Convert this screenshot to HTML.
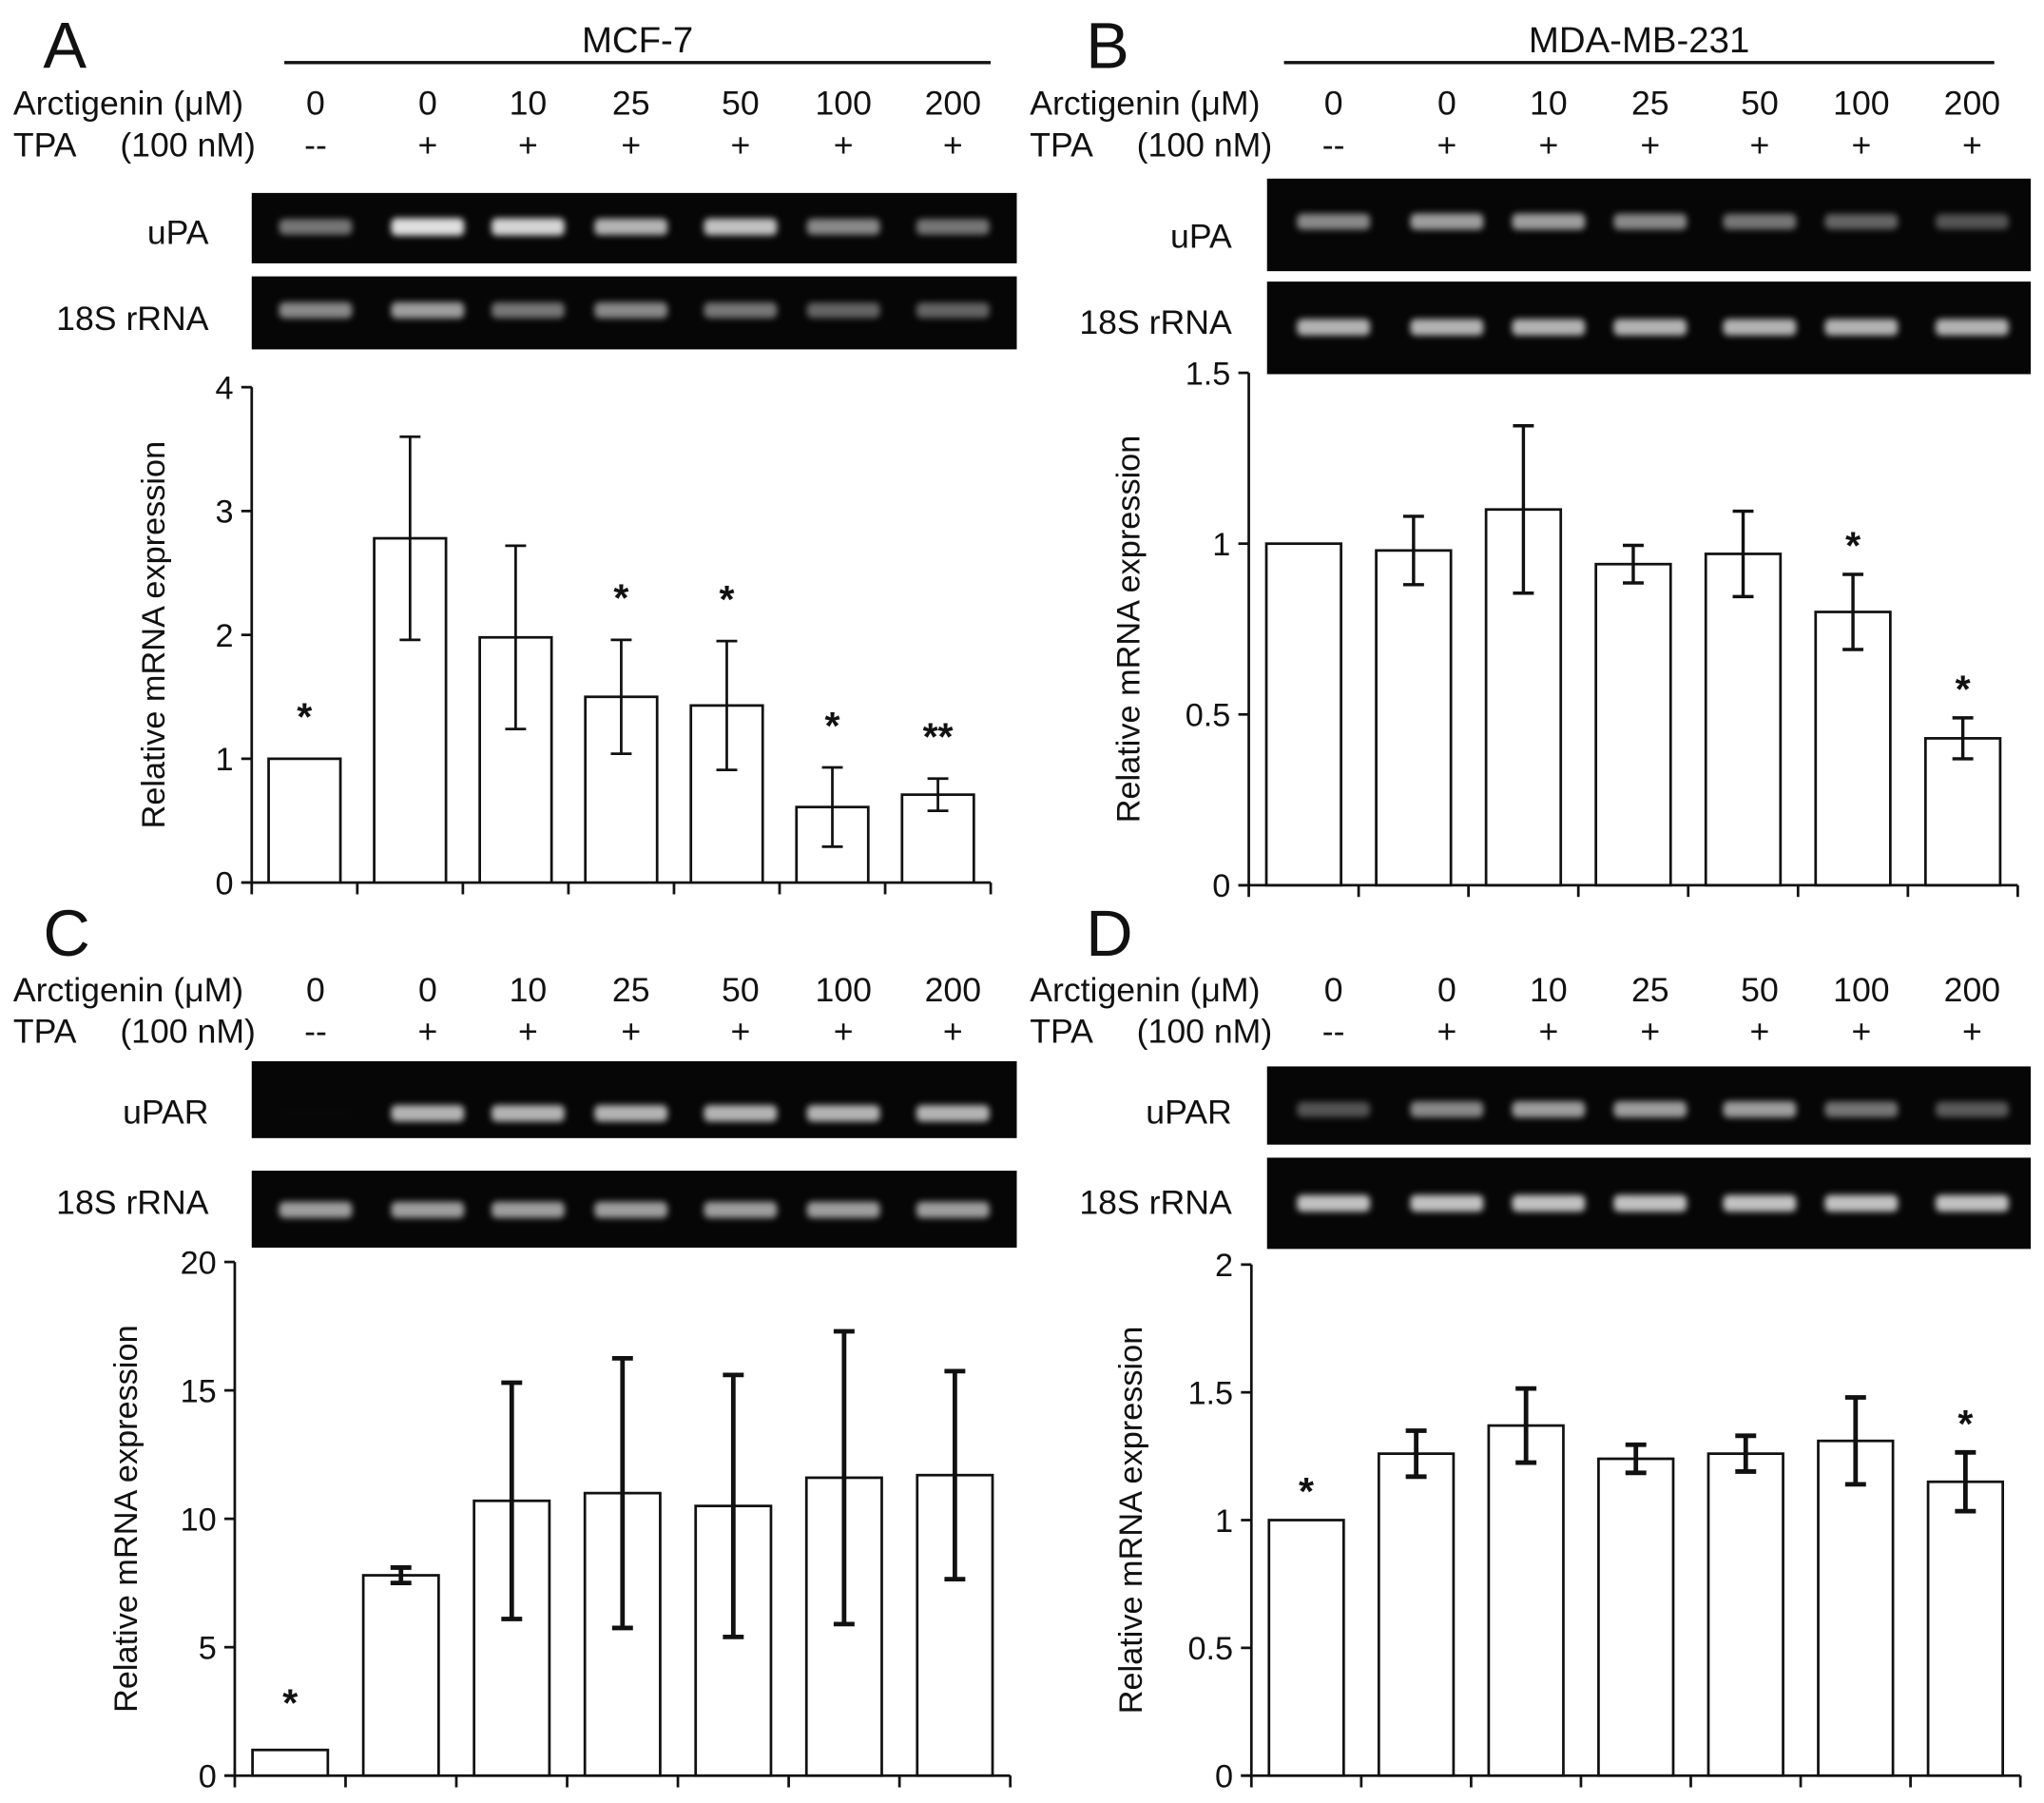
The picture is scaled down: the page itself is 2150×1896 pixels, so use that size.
<!DOCTYPE html>
<html><head><meta charset="utf-8"><style>
html,body{margin:0;padding:0;background:#fff}
svg{display:block}
text{font-family:"Liberation Sans",Arial,sans-serif;fill:#111}
</style></head><body>
<svg id="fig" xmlns="http://www.w3.org/2000/svg" width="2150" height="1896" viewBox="0 0 1568 1383">
<defs><filter id="blur" x="-20%" y="-100%" width="140%" height="300%"><feGaussianBlur stdDeviation="2.6"/></filter></defs>
</svg>
<script>
const doses=["0","0","10","25","50","100","200"];
const tpa=["--","+","+","+","+","+","+"];
const valsA=[1,2.78,1.98,1.5,1.43,0.61,0.71];
const errA=[0,0.82,0.74,0.46,0.52,0.32,0.13];
const starsA=["*","","","*","*","*","**"];
const ticksA=[0,1,2,3,4];
const valsB=[1,0.98,1.1,0.94,0.97,0.8,0.43];
const errB=[0,0.1,0.245,0.055,0.125,0.11,0.06];
const starsB=["","","","","","*","*"];
const ticksB=[0,0.5,1,1.5];
const valsC=[1,7.8,10.7,11.0,10.5,11.6,11.7];
const errC=[0,0.3,4.6,5.25,5.1,5.7,4.05];
const starsC=["*","","","","","",""];
const ticksC=[0,5,10,15,20];
const valsD=[1,1.26,1.37,1.24,1.26,1.31,1.15];
const errD=[0,0.09,0.145,0.055,0.07,0.17,0.115];
const starsD=["*","","","","","","*"];
const ticksD=[0,0.5,1,1.5,2];
const bandA1=[0.5,0.85,0.8,0.65,0.7,0.55,0.5];
const bandA2=[0.55,0.6,0.5,0.55,0.5,0.45,0.45];
const bandB1=[0.55,0.6,0.6,0.55,0.5,0.45,0.4];
const bandB2=[0.65,0.65,0.65,0.65,0.65,0.65,0.65];
const bandC1=[0.02,0.65,0.65,0.65,0.65,0.65,0.65];
const bandC2=[0.6,0.6,0.6,0.6,0.6,0.6,0.6];
const bandD1=[0.4,0.55,0.6,0.6,0.6,0.5,0.42];
const bandD2=[0.7,0.7,0.7,0.7,0.7,0.7,0.7];

const svg=document.getElementById('fig');
const NS="http://www.w3.org/2000/svg";
function mk(tag,at,parent){const e=document.createElementNS(NS,tag);for(const k in at)e.setAttribute(k,at[k]);(parent||svg).appendChild(e);return e;}
function txt(s,x,y,size,anchor,parent,extra){const t=mk('text',Object.assign({x:x,y:y,'font-size':size,'text-anchor':anchor||'start'},extra||{}),parent);t.textContent=s;return t;}

function panel(p){
  const g=mk('g',{});
  
  
  const L=txt(p.id,p.letterX,p.letterY,50,'start',g);
  
  
  if(p.cell){
    const c=txt(p.cell,(p.lineX1+p.lineX2)/2,40,28,'middle',g);
    
    
    const ln=mk('line',{x1:p.lineX1,x2:p.lineX2,y1:48,y2:48,stroke:'#111','stroke-width':2.5},g);
    
    
  }
  const a=txt('Arctigenin (μM)',p.labX,p.rowY,26,'start',g);
  
  
  const tp=txt('TPA',p.labX,p.rowY+32,26,'start',g);
  
  
  const tp2=txt('(100 nM)',p.labX+186,p.rowY+32,26,'end',g);
  
  
  doses.forEach((d,i)=>{
    const t=txt(d,p.laneX[i],p.rowY,26,'middle',g);
    
    
    const u=txt(tpa[i],p.laneX[i],p.rowY+32,26,'middle',g);
    
    
  });
  p.gels.forEach(gl=>{
    const r=mk('rect',{x:gl.x1,y:gl.y1,width:gl.x2-gl.x1,height:gl.y2-gl.y1,fill:'#060606'},g);
    
    
    const lt=txt(gl.name,gl.labRight,gl.labY,26,'end',g);
    
    
    gl.band.forEach((b,i)=>{
      const v=Math.round(60+190*b);
      const e=mk('rect',{x:p.laneX[i]-28,y:gl.by-5-b*2,width:56,height:10+b*4,rx:4,fill:'rgb('+v+','+v+','+v+')',filter:'url(#blur)',opacity:Math.min(1,b*1.5)},g);
      
      
    });
  });
  const c=p.chart;
  const n=c.vals.length;
  const step=(c.x2-c.x0)/n;
  const xs=i=>c.x0+step*i;
  const ys=v=>c.yZero-(v/c.ticks[c.ticks.length-1])*(c.yZero-c.yTop);
  const ax=mk('line',{x1:c.x0,x2:c.x0,y1:ys(c.ticks[c.ticks.length-1]),y2:c.yZero,stroke:'#111','stroke-width':2},g);
  
  
  const xa=mk('line',{x1:c.x0-8,x2:c.x2,y1:c.yZero,y2:c.yZero,stroke:'#111','stroke-width':2},g);
  
  
  c.ticks.forEach(t=>{
    const tk=mk('line',{x1:c.x0-8,x2:c.x0,y1:ys(t),y2:ys(t),stroke:'#111','stroke-width':2},g);
    
    
    const tl=txt(String(t),c.x0-14,ys(t)+9,25,'end',g);
    
    
  });
  for(let i=0;i<=n;i++){
    const tk=mk('line',{x1:xs(i),x2:xs(i),y1:c.yZero,y2:c.yZero+9,stroke:'#111','stroke-width':2},g);
    
    
  }
  const yt=txt('Relative mRNA expression',0,0,25,'middle',g,{transform:'translate('+c.titleX+','+((c.yZero+ys(c.ticks[c.ticks.length-1]))/2)+') rotate(-90)'});
  
  
  const bw=step*0.68;
  c.vals.forEach((v,i)=>{
    const cx=xs(i)+step/2;
    const b=mk('rect',{x:cx-bw/2,y:ys(v),width:bw,height:c.yZero-ys(v),fill:'#fff',stroke:'#111','stroke-width':2},g);
    
    
    const e=c.err[i];
    if(e>0){
      const eg=mk('g',{stroke:'#111','stroke-width':c.ew},g);
      
      
      mk('line',{x1:cx,x2:cx,y1:ys(v+e),y2:ys(v-e)},eg);
      mk('line',{x1:cx-8,x2:cx+8,y1:ys(v+e),y2:ys(v+e)},eg);
      mk('line',{x1:cx-8,x2:cx+8,y1:ys(v-e),y2:ys(v-e)},eg);
    }
    if(c.stars[i]){
      const s=txt(c.stars[i],cx,ys(v+e)-c.starOff,30,'middle',g,{'font-weight':'bold'});
      
      
    }
  });
}
const laneL=[242,328,405,484,568,647,731];
const laneR=[1023,1110,1188,1266,1350,1428,1513];
panel({id:'A',letterX:33,letterY:52,cell:'MCF-7',lineX1:218,lineX2:760,labX:10,rowY:88,laneX:laneL,
  gels:[{name:'uPA',x1:193,x2:780,y1:148,y2:202,by:174,labRight:160,labY:187,band:bandA1},{name:'18S rRNA',x1:193,x2:780,y1:212,y2:268,by:238,labRight:160,labY:253,band:bandA2}],
  chart:{x0:193,x2:760,yZero:677,yTop:297,vals:valsA,err:errA,stars:starsA,ticks:ticksA,titleX:126,ew:2,starOff:22}});
panel({id:'B',letterX:833,letterY:52,cell:'MDA-MB-231',lineX1:985,lineX2:1530,labX:790,rowY:88,laneX:laneR,
  gels:[{name:'uPA',x1:972,x2:1558,y1:137,y2:208,by:170,labRight:945,labY:190,band:bandB1},{name:'18S rRNA',x1:972,x2:1558,y1:216,y2:287,by:251,labRight:945,labY:256,band:bandB2}],
  chart:{x0:958,x2:1548,yZero:679,yTop:286,vals:valsB,err:errB,stars:starsB,ticks:ticksB,titleX:874,ew:2.5,starOff:12}});
panel({id:'C',letterX:33,letterY:733,labX:10,rowY:768,laneX:laneL,
  gels:[{name:'uPAR',x1:193,x2:780,y1:814,y2:873,by:854,labRight:160,labY:862,band:bandC1},{name:'18S rRNA',x1:193,x2:780,y1:898,y2:957,by:928,labRight:160,labY:931,band:bandC2}],
  chart:{x0:180,x2:775,yZero:1362,yTop:968,vals:valsC,err:errC,stars:starsC,ticks:ticksC,titleX:105,ew:3.5,starOff:26}});
panel({id:'D',letterX:833,letterY:733,labX:790,rowY:768,laneX:laneR,
  gels:[{name:'uPAR',x1:972,x2:1558,y1:818,y2:878,by:851,labRight:945,labY:862,band:bandD1},{name:'18S rRNA',x1:972,x2:1558,y1:888,y2:958,by:923,labRight:945,labY:931,band:bandD2}],
  chart:{x0:960,x2:1550,yZero:1362,yTop:970,vals:valsD,err:errD,stars:starsD,ticks:ticksD,titleX:876,ew:3.5,starOff:12}});
</script>
</body></html>
